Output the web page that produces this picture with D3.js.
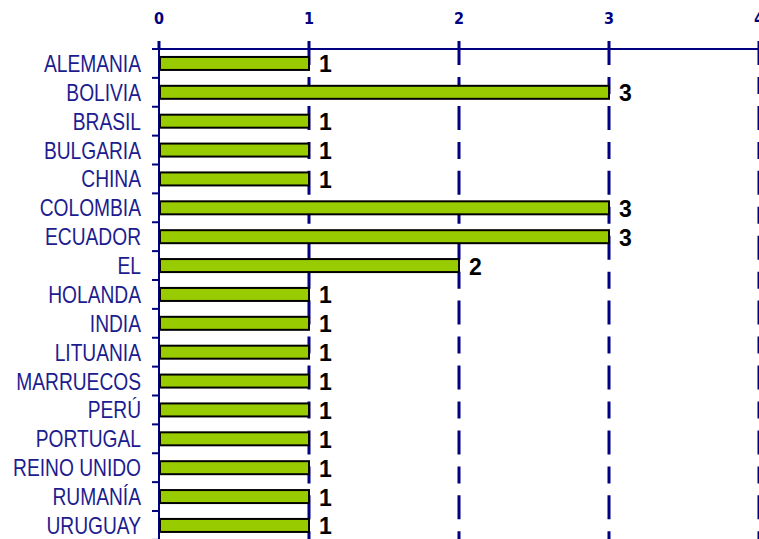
<!DOCTYPE html>
<html><head><meta charset="utf-8">
<script src="https://cdn.jsdelivr.net/npm/d3@7"></script>
<style>
html,body{margin:0;padding:0;background:#fff;}
svg{display:block;}
</style></head>
<body>
<svg id="chart" width="759" height="539"></svg>
<script>
const categories = ["ALEMANIA","BOLIVIA","BRASIL","BULGARIA","CHINA","COLOMBIA","ECUADOR","EL","HOLANDA","INDIA","LITUANIA","MARRUECOS","PERÚ","PORTUGAL","REINO UNIDO","RUMANÍA","URUGUAY"];
const values = [1,3,1,1,1,3,3,2,1,1,1,1,1,1,1,1,1];
const xTicks = [0,1,2,3,4];

(function(){
const svg = d3.select("#chart");
const navy = "#000080";
const left = 159, topY = 49;
const x = d3.scaleLinear().domain([0,4]).range([left, left+600]);
const y = d3.scaleBand().domain(categories).range([topY, topY + 17*28.875]).paddingInner(0).paddingOuter(0);
const narrow = 0.8;

// dashed gridlines (including top ticks)
svg.append("g").selectAll("line").data(xTicks.slice(1)).join("line")
  .attr("x1", d=>x(d)).attr("x2", d=>x(d))
  .attr("y1", 41).attr("y2", 539)
  .attr("stroke", navy).attr("stroke-width", 3)
  .attr("stroke-dasharray", "24 12 17 11.9");

// top axis line
svg.append("line").attr("x1", left).attr("x2", 759).attr("y1", topY).attr("y2", topY)
  .attr("stroke", navy).attr("stroke-width", 2);
// top tick at 0
svg.append("line").attr("x1", left).attr("x2", left).attr("y1", 41).attr("y2", topY)
  .attr("stroke", navy).attr("stroke-width", 3);

// top tick labels
svg.append("g").selectAll("text").data(xTicks).join("text")
  .attr("x", d=>x(d)).attr("y", 24)
  .attr("text-anchor","middle")
  .style("font-family","'DejaVu Sans Condensed','Liberation Sans',Arial,sans-serif")
  .style("font-weight","bold").style("font-size", "16px").attr("fill", navy)
  .text(d=>String(d));

// left axis
svg.append("line").attr("x1", left).attr("x2", left).attr("y1", 41).attr("y2", 539)
  .attr("stroke", navy).attr("stroke-width", 2);
const bounds = categories.map(c=>y(c)).concat([y.range()[1]]);
svg.append("g").selectAll("line").data(bounds).join("line")
  .attr("x1", left-7).attr("x2", left).attr("y1", d=>d).attr("y2", d=>d)
  .attr("stroke", navy).attr("stroke-width", 2);

// category labels
svg.append("g").selectAll("text").data(categories).join("text")
  .attr("transform", d=>`translate(141,${y(d)+y.bandwidth()/2+8.5}) scale(${narrow},1)`)
  .attr("text-anchor","end")
  .style("font-family","'Liberation Sans',Arial,sans-serif")
  .style("font-size", "24px").attr("fill", "#1c1c8f")
  .text(d=>d);

// bars
const bh = 13;
svg.append("g").selectAll("rect").data(categories).join("rect")
  .attr("x", x(0)+1).attr("y", (d)=>y(d)+y.bandwidth()/2-bh/2)
  .attr("width", (d,i)=>x(values[i])-x(0)-1).attr("height", bh)
  .attr("fill","#99cc00").attr("stroke","#000").attr("stroke-width", 2);

// value labels
svg.append("g").selectAll("text").data(categories).join("text")
  .attr("x", (d,i)=>x(values[i])+10).attr("y", d=>y(d)+y.bandwidth()/2+9)
  .style("font-family","'Liberation Sans',Arial,sans-serif")
  .style("font-weight","bold").style("font-size", "23px").attr("fill","#000")
  .text((d,i)=>values[i]);
})();
</script>
</body></html>
